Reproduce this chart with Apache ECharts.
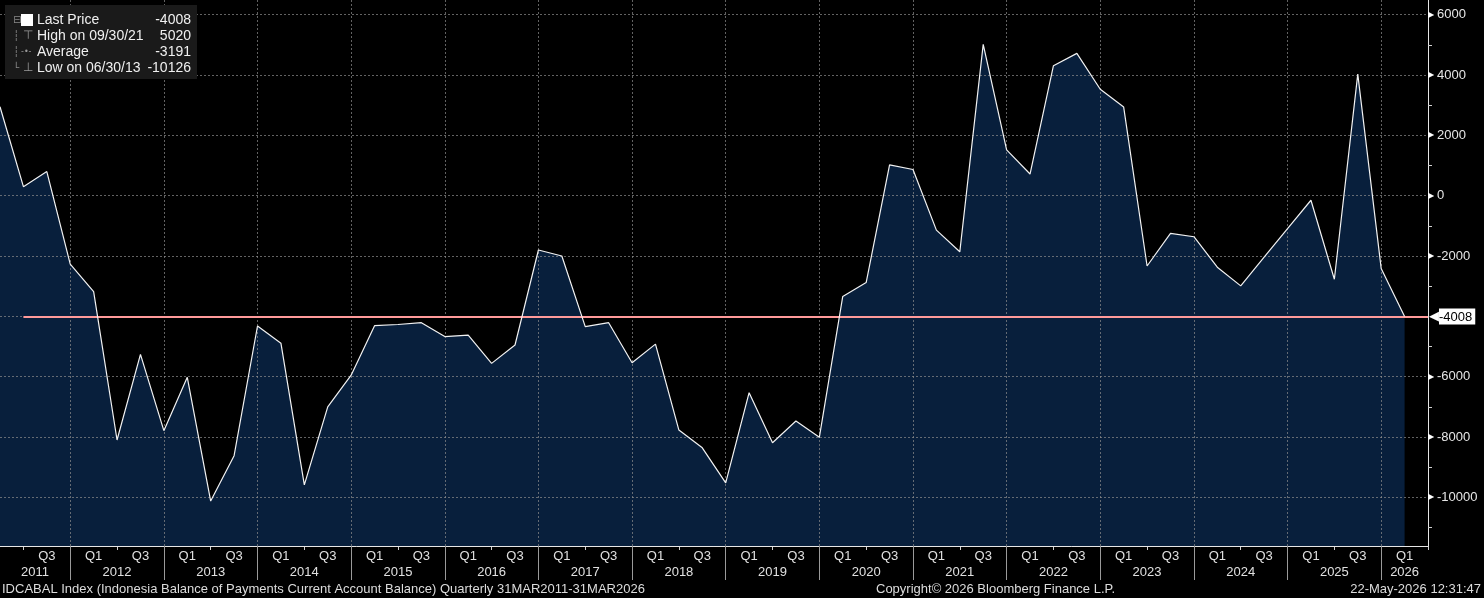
<!DOCTYPE html>
<html>
<head>
<meta charset="utf-8">
<script src="https://cdn.jsdelivr.net/npm/echarts@6/dist/echarts.min.js"></script>
<style>
html,body{margin:0;padding:0;background:#000;}
#c{width:1484px;height:598px;}
</style>
</head>
<body>
<div id="c"></div>
<script>
// ---- data ----
const categories = [
 '2011 Q1','2011 Q2','2011 Q3','2011 Q4',
 '2012 Q1','2012 Q2','2012 Q3','2012 Q4',
 '2013 Q1','2013 Q2','2013 Q3','2013 Q4',
 '2014 Q1','2014 Q2','2014 Q3','2014 Q4',
 '2015 Q1','2015 Q2','2015 Q3','2015 Q4',
 '2016 Q1','2016 Q2','2016 Q3','2016 Q4',
 '2017 Q1','2017 Q2','2017 Q3','2017 Q4',
 '2018 Q1','2018 Q2','2018 Q3','2018 Q4',
 '2019 Q1','2019 Q2','2019 Q3','2019 Q4',
 '2020 Q1','2020 Q2','2020 Q3','2020 Q4',
 '2021 Q1','2021 Q2','2021 Q3','2021 Q4',
 '2022 Q1','2022 Q2','2022 Q3','2022 Q4',
 '2023 Q1','2023 Q2','2023 Q3','2023 Q4',
 '2024 Q1','2024 Q2','2024 Q3','2024 Q4',
 '2025 Q1','2025 Q2','2025 Q3','2025 Q4',
 '2026 Q1','2026 Q2'
];
const values = [
 2950, 300, 800, -2270,
 -3180, -8100, -5260, -7790,
 -6020, -10126, -8620, -4320,
 -4890, -9590, -7000, -5950,
 -4310, -4270, -4210, -4670,
 -4620, -5560, -4950, -1800,
 -2000, -4340, -4210, -5540,
 -4920, -7770, -8360, -9520,
 -6530, -8190, -7470, -8010,
 -3340, -2880, 1020, 870,
 -1140, -1860, 5020, 1520,
 720, 4310, 4720, 3530,
 2940, -2330, -1250, -1360,
 -2370, -2990, -2040, -1090,
 -150, -2770, 4030, -2410,
 -4008, null
];
const yLabelValues = [-10000, -8000, -6000, -2000, 0, 2000, 4000, 6000];
const yMinorValues = [-11000, -9000, -7000, -5000, -3000, -1000, 1000, 3000, 5000];
const yGridValuesRange = [-10000, 6000];
const legendLabels = ['Last Price', 'High on 09/30/21', 'Average', 'Low on 06/30/13'];
const legendValues = ['-4008', '5020', '-3191', '-10126'];
const footerLeft = 'IDCABAL Index (Indonesia Balance of Payments Current Account Balance) Quarterly 31MAR2011-31MAR2026';
const footerMid = 'Copyright\u00a9 2026 Bloomberg Finance L.P.';
const footerRight = '22-May-2026 12:31:47';

// ---- chart ----
const FONT = 'Liberation Sans';
const lastValue = values[values.length - 2];
const lastIdx = categories.length - 2;

const treeGlyphs = ['\u229f', '\u2506', '\u2506', '\u2514'];
const iconKeys = ['sq', 'hi', 'av', 'lo'];
const iconGlyphs = [' ', '\u22a4', '-\u2022-', '\u22a5'];
const legendText = legendLabels.map((l, i) =>
  '{tr|' + treeGlyphs[i] + '}{' + iconKeys[i] + '|' + iconGlyphs[i] + '}{lb|' + l + '}{vl|' + legendValues[i] + '}'
).join('\n');

const gridLine = {color: 'rgba(140,140,140,0.7)', type: [2, 2], width: 1};

const option = {
  backgroundColor: '#000',
  animation: false,
  textStyle: {fontFamily: FONT},
  grid: [
    {left: 0, right: 56, top: 0, bottom: 52},
    {left: 0, right: 56, top: 14.7, bottom: 100.7}
  ],
  title: [
    {
      left: 5, top: 4, padding: [8, 6, 4, 8],
      backgroundColor: '#1a1a1a',
      text: legendText,
      textStyle: {
        fontFamily: FONT, fontWeight: 'normal', fontSize: 14, color: '#f0f0f0',
        rich: {
          tr: {color: '#8a8a8a', fontSize: 10, width: 8, lineHeight: 16, align: 'left', fontFamily: 'DejaVu Sans'},
          sq: {backgroundColor: '#ffffff', width: 12, height: 12, fontSize: 10, lineHeight: 16, align: 'left'},
          hi: {color: '#9a9a9a', fontSize: 12, width: 10, padding: [0, 0, 0, 2], lineHeight: 16, align: 'left', fontFamily: 'DejaVu Sans'},
          av: {color: '#9a9a9a', fontSize: 8, width: 12, lineHeight: 16, align: 'left', fontFamily: 'DejaVu Sans'},
          lo: {color: '#9a9a9a', fontSize: 12, width: 10, padding: [0, 0, 0, 2], lineHeight: 16, align: 'left', fontFamily: 'DejaVu Sans'},
          lb: {color: '#f0f0f0', fontSize: 14, width: 110, padding: [0, 0, 0, 4], lineHeight: 16, align: 'left', fontFamily: FONT},
          vl: {color: '#f0f0f0', fontSize: 14, width: 44, align: 'right', lineHeight: 16, fontFamily: FONT}
        }
      }
    },
    {left: 2, top: 583, padding: 0, text: footerLeft,
     textStyle: {fontFamily: FONT, fontWeight: 'normal', fontSize: 13, color: '#dcdcdc'}},
    {left: 876, top: 583, padding: 0, text: footerMid,
     textStyle: {fontFamily: FONT, fontWeight: 'normal', fontSize: 13, color: '#dcdcdc'}},
    {right: 3, top: 583, padding: 0, text: footerRight,
     textStyle: {fontFamily: FONT, fontWeight: 'normal', fontSize: 13, color: '#dcdcdc'}}
  ],
  xAxis: [
    {
      gridIndex: 0, type: 'category', data: categories, boundaryGap: false, position: 'bottom', z: 3,
      axisLine: {show: true, onZero: false, lineStyle: {color: '#e6e6e6', width: 1}},
      axisTick: {show: true, interval: (i) => i % 4 === 3, length: 34, lineStyle: {color: '#9a9a9a'}},
      axisLabel: {
        interval: (i) => (i % 4 === 0 && i > 0) || i % 4 === 2,
        formatter: (v) => v.split(' ')[1],
        color: '#e0e0e0', fontSize: 13, margin: 4, fontFamily: FONT
      },
      splitLine: {show: true, interval: (i) => i % 4 === 3, lineStyle: gridLine}
    },
    {
      gridIndex: 0, type: 'category', data: categories, boundaryGap: false, position: 'bottom',
      axisLine: {show: false, onZero: false},
      axisTick: {show: true, interval: (i) => i % 4 === 1, length: 4, lineStyle: {color: '#cfcfcf'}},
      axisLabel: {
        interval: (i) => (i % 4 === 1 && i < lastIdx) || i === lastIdx,
        formatter: (v, i) => {
          const y = v.split(' ')[0];
          return i === 1 ? '{p|' + y + '}' : y;
        },
        rich: {p: {padding: [0, 0, 0, 23], fontSize: 13, color: '#e0e0e0', fontFamily: FONT}},
        color: '#e0e0e0', fontSize: 13, margin: 20, fontFamily: FONT
      },
      splitLine: {show: false}
    },
    {gridIndex: 1, type: 'category', data: categories, boundaryGap: false, show: false}
  ],
  yAxis: [
    {
      gridIndex: 0, type: 'value', position: 'right', min: -11615, max: 6490,
      axisLine: {show: true, lineStyle: {color: '#e6e6e6', width: 1}},
      axisTick: {show: true, customValues: yMinorValues, length: 4, lineStyle: {color: '#cfcfcf'}},
      axisLabel: {
        customValues: yLabelValues, margin: 0,
        formatter: (v) => '{t|\u25b6}{v|' + v + '}',
        rich: {
          t: {fontSize: 8, color: '#ffffff', width: 9, fontFamily: 'DejaVu Sans'},
          v: {fontSize: 13, color: '#e6e6e6', fontFamily: FONT}
        }
      },
      splitLine: {show: false}
    },
    {
      gridIndex: 1, type: 'value', min: yGridValuesRange[0], max: yGridValuesRange[1], interval: 2000, z: 3,
      axisLine: {show: false}, axisTick: {show: false}, axisLabel: {show: false},
      splitLine: {show: true, lineStyle: gridLine}
    }
  ],
  series: [
    {
      type: 'line', xAxisIndex: 0, yAxisIndex: 0, data: values, symbol: 'none', z: 1,
      lineStyle: {width: 0}, areaStyle: {color: '#081f3c', opacity: 1, origin: 'start'}
    },
    {
      type: 'line', xAxisIndex: 0, yAxisIndex: 0, data: values, symbol: 'none', z: 5,
      lineStyle: {color: '#f2f2f2', width: 1.2},
      markLine: {
        silent: true, animation: false, symbol: ['none', 'none'],
        lineStyle: {color: '#ff9a9a', width: 2, type: 'solid'},
        label: {
          show: true, position: 'end', distance: 1,
          formatter: '{a|\u25c0}{b|' + lastValue + '}',
          rich: {
            a: {color: '#ffffff', fontSize: 13, fontFamily: 'DejaVu Sans', lineHeight: 17},
            b: {color: '#000000', backgroundColor: '#ffffff', fontSize: 13, fontFamily: FONT, padding: [2, 3, 1, 0], lineHeight: 14}
          }
        },
        data: [[{coord: [categories[1], lastValue]}, {coord: [categories[categories.length - 1], lastValue]}]]
      }
    }
  ]
};

const chart = echarts.init(document.getElementById('c'), null, {renderer: 'canvas'});
chart.setOption(option);
</script>
</body>
</html>
